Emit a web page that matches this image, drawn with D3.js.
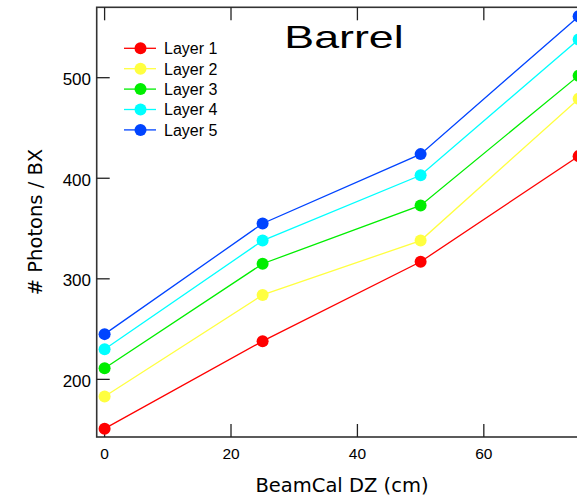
<!DOCTYPE html>
<html>
<head>
<meta charset="utf-8">
<script src="https://cdnjs.cloudflare.com/ajax/libs/d3/7.8.5/d3.min.js"></script>
<style>
  body { margin: 0; background: #fff; }
  svg { display: block; }
  .tick-label { font-family: Arial, "Liberation Sans", sans-serif; fill: #000; }
  .axis-title { font-family: "Comic Sans MS", "DejaVu Sans", sans-serif; font-size: 19.5px; fill: #000; }
</style>
</head>
<body>
<svg width="577" height="499"></svg>
<script>
// data
var dz = [0, 25, 50, 75];
var layerNames = ["Layer 1", "Layer 2", "Layer 3", "Layer 4", "Layer 5"];
var layerColors = ["#ff0000", "#ffff40", "#00ee00", "#00ffff", "#0044ff"];
var layer1 = [151, 238, 317, 422];
var layer2 = [183, 284, 338, 479];
var layer3 = [211, 315, 373, 502];
var layer4 = [230, 338, 403, 538];
var layer5 = [245, 355, 424, 561];
var layers = [layer1, layer2, layer3, layer4, layer5];
var xTicks = [0, 20, 40, 60];
var yTicks = [200, 300, 400, 500];

var svg = d3.select("svg");

var x = d3.scaleLinear().domain([-1.25, 76.8]).range([96.7, 590]);
var y = d3.scaleLinear().domain([142.7, 570]).range([437, 7.3]);

var frame = svg.append("g");
var tickLen = 13;

// frame
frame.append("rect")
    .attr("x", x.range()[0]).attr("y", y.range()[1])
    .attr("width", x.range()[1] - x.range()[0])
    .attr("height", y.range()[0] - y.range()[1])
    .attr("fill", "none").attr("stroke", "#333").attr("stroke-width", 1.6);

xTicks.forEach(function(t) {
    frame.append("line")
        .attr("x1", x(t)).attr("x2", x(t))
        .attr("y1", y.range()[0]).attr("y2", y.range()[0] - tickLen)
        .attr("stroke", "#222").attr("stroke-width", 1.3);
    frame.append("line")
        .attr("x1", x(t)).attr("x2", x(t))
        .attr("y1", y.range()[1]).attr("y2", y.range()[1] + tickLen)
        .attr("stroke", "#222").attr("stroke-width", 1.3);
    frame.append("text")
        .attr("class", "tick-label")
        .attr("font-size", 15.5)
        .attr("x", x(t)).attr("y", 459)
        .attr("text-anchor", "middle")
        .text(t);
});

yTicks.forEach(function(t) {
    frame.append("line")
        .attr("x1", x.range()[0]).attr("x2", x.range()[0] + tickLen)
        .attr("y1", y(t)).attr("y2", y(t))
        .attr("stroke", "#222").attr("stroke-width", 1.3);
    frame.append("line")
        .attr("x1", x.range()[1]).attr("x2", x.range()[1] - tickLen)
        .attr("y1", y(t)).attr("y2", y(t))
        .attr("stroke", "#222").attr("stroke-width", 1.3);
    frame.append("text")
        .attr("class", "tick-label")
        .attr("font-size", 17)
        .attr("x", 91).attr("y", y(t) + 7.3)
        .attr("text-anchor", "end")
        .text(t);
});

// axis titles
svg.append("text")
    .attr("class", "axis-title")
    .attr("x", 342).attr("y", 492)
    .attr("text-anchor", "middle")
    .text("BeamCal DZ (cm)");

svg.append("text")
    .attr("class", "axis-title")
    .attr("transform", "translate(42,222) rotate(-90)")
    .attr("text-anchor", "middle")
    .text("# Photons / BX");

// title, stretched wide like the original
svg.append("text")
    .attr("transform", "translate(344,48) scale(1.4,1)")
    .attr("text-anchor", "middle")
    .attr("font-family", "Arial, 'Liberation Sans', sans-serif")
    .attr("font-size", 32)
    .text("Barrel");

// series
var line = d3.line()
    .x(function(d, i) { return x(dz[i]); })
    .y(function(d) { return y(d); });

layers.forEach(function(vals, k) {
    var g = svg.append("g");
    g.append("path")
        .attr("d", line(vals))
        .attr("fill", "none")
        .attr("stroke", layerColors[k])
        .attr("stroke-width", 1.3);
    g.selectAll("circle")
        .data(vals)
        .enter().append("circle")
        .attr("cx", function(d, i) { return x(dz[i]); })
        .attr("cy", function(d) { return y(d); })
        .attr("r", 6)
        .attr("fill", layerColors[k]);
});

// legend
var legend = svg.append("g");
layerNames.forEach(function(name, k) {
    var ly = 48.3 + k * 20.4;
    legend.append("line")
        .attr("x1", 124).attr("x2", 156)
        .attr("y1", ly).attr("y2", ly)
        .attr("stroke", layerColors[k]).attr("stroke-width", 1.3);
    legend.append("circle")
        .attr("cx", 140.5).attr("cy", ly).attr("r", 6)
        .attr("fill", layerColors[k]);
    legend.append("text")
        .attr("x", 164).attr("y", ly + 5.8)
        .attr("font-family", "Arial, 'Liberation Sans', sans-serif")
        .attr("font-size", 16)
        .text(name);
});
</script>
</body>
</html>
